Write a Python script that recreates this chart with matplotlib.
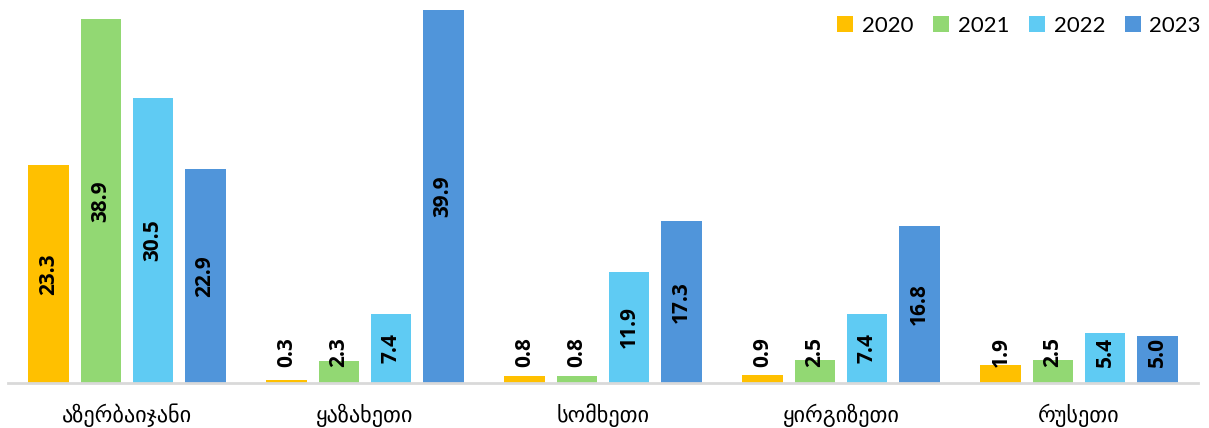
import matplotlib
matplotlib.use("Agg")
import matplotlib.pyplot as plt
import numpy as np

categories = ["აზერბაიჯანი", "ყაზახეთი", "სომხეთი", "ყირგიზეთი", "რუსეთი"]
years = ["2020", "2021", "2022", "2023"]
v2020 = [23.3, 0.3, 0.8, 0.9, 1.9]
v2021 = [38.9, 2.3, 0.8, 2.5, 2.5]
v2022 = [30.5, 7.4, 11.9, 7.4, 5.4]
v2023 = [22.9, 39.9, 17.3, 16.8, 5.0]
series = [v2020, v2021, v2022, v2023]
colors = ["#FFC000", "#92D873", "#5FCBF3", "#5095DA"]

fig = plt.figure(figsize=(12.09, 4.28), dpi=100)
ax = fig.add_axes([8/1209, 45/428, 1190/1209, (383-9)/428])

x = np.arange(len(categories))
step = 0.2187
width = 0.172
min_label = 3.3
for i, (vals, col, yr) in enumerate(zip(series, colors, years)):
    xs = x + (i - 1.5) * step
    ax.bar(xs, vals, width=width, color=col, label=yr, zorder=2)
    for xi, v in zip(xs, vals):
        ax.text(xi, max(v / 2, min_label), f"{v:.1f}", rotation=90,
                ha="center", va="center", fontsize=15, fontweight="bold",
                family=["Open Sans", "DejaVu Sans"], color="black", zorder=3)

ax.set_xlim(-0.5, len(categories) - 0.5)
ax.set_ylim(0, 40)
ax.set_yticks([])
ax.set_xticks(x)
ax.set_xticklabels(categories, fontsize=16, family=["DejaVu Sans"])
ax.tick_params(axis="x", length=0, pad=15)
for s in ["top", "right", "left"]:
    ax.spines[s].set_visible(False)
ax.spines["bottom"].set_color("#D9D9D9")
ax.spines["bottom"].set_linewidth(2)

leg = fig.legend(loc="upper right", bbox_to_anchor=(1201/1209, 1.0 - 16/428), ncol=4,
                 frameon=False, handlelength=0.7, handleheight=0.7,
                 handletextpad=0.4, columnspacing=0.9, borderpad=0, borderaxespad=0,
                 prop={"family": "Lato", "size": 16})

fig.savefig("out.png", dpi=100)
